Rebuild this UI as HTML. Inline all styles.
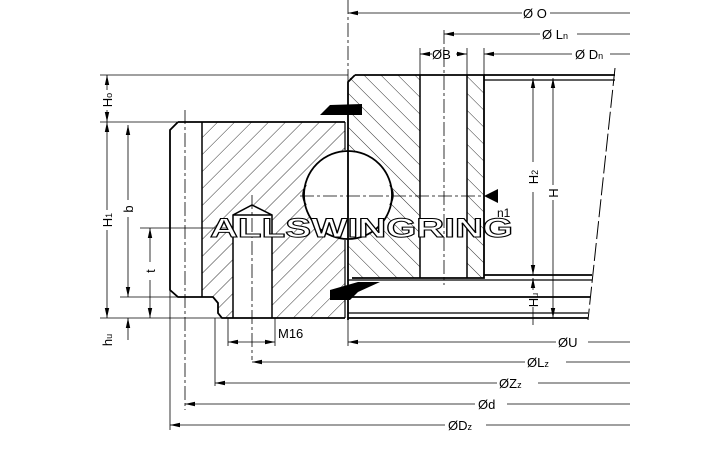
<!DOCTYPE html>
<html><head><meta charset="utf-8"><style>
html,body{margin:0;padding:0;background:#fff;}
svg{display:block;font-family:"Liberation Sans",sans-serif;}
</style></head><body>
<svg width="720" height="456" viewBox="0 0 720 456" xmlns="http://www.w3.org/2000/svg">
<defs>
<pattern id="hl" width="12" height="12" patternUnits="userSpaceOnUse" patternTransform="rotate(45)"><line x1="0" y1="0" x2="0" y2="12" stroke="#000" stroke-width="0.8"/></pattern>
<pattern id="hr" width="12" height="12" patternUnits="userSpaceOnUse" patternTransform="rotate(-45)"><line x1="0" y1="0" x2="0" y2="12" stroke="#000" stroke-width="0.8"/></pattern>
<marker id="a" markerWidth="10" markerHeight="6" refX="10" refY="3" orient="auto-start-reverse" markerUnits="userSpaceOnUse"><path d="M10,3 L0,0.8 L0,5.2 Z" fill="#000"/></marker>
</defs>
<g fill="none" stroke="#000" stroke-width="1">
<path d="M202,122 L345,122 L345,318 L272,318 L272,215 L252,205 L233,215 L233,318 L218,318 L218,297 L202,297 Z" fill="url(#hl)" stroke="none"/>
<circle cx="348" cy="195" r="44" fill="#fff" stroke="none"/>
<path d="M352,75 L420,75 L420,278 L352,278 L348,274 L348,80 Z" fill="url(#hr)" stroke="none"/>
<rect x="467" y="75" width="17" height="203" fill="url(#hr)" stroke="none"/>
<circle cx="348" cy="195" r="44" fill="#fff" stroke-width="1.8"/>
<path d="M306,185 Q300,195 306,205 M390,185 Q396,195 390,205" stroke-width="1.5"/>
<path d="M178,122 L345,122 M178,122 L170,130 L170,290 L178,297 L213,297 L218,303 L218,313 L222,318 L345,318" stroke-width="1.8"/>
<line x1="202" y1="122" x2="202" y2="297" stroke-width="1.5"/>
<path d="M233,318 L233,215 L252,205 L272,215 L272,318 M233,215 L272,215" stroke-width="1.5"/>
<line x1="345" y1="122" x2="345" y2="150" stroke-width="1.2"/>
<line x1="345" y1="240" x2="345" y2="318" stroke-width="1.2"/>
<path d="M355,75 L484,75 L484,278 L352,278 M355,75 L348,82 L348,278" stroke-width="1.8"/>
<line x1="420" y1="75" x2="420" y2="278" stroke-width="1.5"/>
<line x1="467" y1="75" x2="467" y2="278" stroke-width="1.5"/>
<line x1="484" y1="75" x2="615" y2="75" stroke-width="1.8"/>
<line x1="484" y1="80" x2="615" y2="80" stroke-width="1.2"/>
<line x1="484" y1="275" x2="592" y2="275" stroke-width="1.8"/>
<line x1="348" y1="280" x2="592" y2="280" stroke-width="1.2"/>
<line x1="348" y1="297" x2="590" y2="297" stroke-width="1.8"/>
<line x1="348" y1="313" x2="588" y2="313" stroke-width="1.2"/>
<line x1="348" y1="318" x2="588" y2="318" stroke-width="1.8"/>
<line x1="348" y1="278" x2="348" y2="320" stroke-width="1.8"/>
<line x1="615" y1="68" x2="588" y2="320" stroke-dasharray="18,4"/>
<path d="M320,115 L330,105 L362,104 L362,115 Z" fill="#000" stroke="none"/>
<path d="M330,290 L358,282 L380,282 L358,292 L350,300 L330,300 Z" fill="#000" stroke="none"/>
<g stroke-dasharray="14,3,3,3" stroke-width="0.8">
<line x1="348" y1="0" x2="348" y2="320"/>
<line x1="444" y1="30" x2="444" y2="285"/>
<line x1="252" y1="195" x2="252" y2="360"/>
<line x1="185" y1="110" x2="185" y2="410"/>
<line x1="300" y1="196" x2="500" y2="196"/>
</g>
<g stroke-width="0.8">
<line x1="100" y1="75" x2="348" y2="75"/>
<line x1="100" y1="122" x2="178" y2="122"/>
<line x1="120" y1="297" x2="180" y2="297"/>
<line x1="100" y1="318" x2="222" y2="318"/>
<line x1="140" y1="228" x2="233" y2="228"/>
<line x1="420" y1="48" x2="420" y2="75"/>
<line x1="467" y1="48" x2="467" y2="75"/>
<line x1="484" y1="48" x2="484" y2="75"/>
<line x1="228" y1="318" x2="228" y2="346"/>
<line x1="275" y1="318" x2="275" y2="346"/>
<line x1="215" y1="318" x2="215" y2="386"/>
<line x1="170" y1="290" x2="170" y2="430"/>
<line x1="348" y1="318" x2="348" y2="346"/>
<line x1="510" y1="75" x2="560" y2="75"/>
</g>
<g stroke-width="0.8">
<line x1="348" y1="13" x2="522" y2="13" marker-start="url(#a)"/><line x1="550" y1="13" x2="630" y2="13"/>
<line x1="444" y1="34" x2="540" y2="34" marker-start="url(#a)"/><line x1="577" y1="34" x2="630" y2="34"/>
<line x1="484" y1="54" x2="572" y2="54" marker-start="url(#a)"/><line x1="610" y1="54" x2="630" y2="54"/>
<line x1="420" y1="54" x2="432" y2="54" marker-start="url(#a)"/><line x1="456" y1="54" x2="467" y2="54" marker-end="url(#a)"/>
<line x1="533" y1="78" x2="533" y2="162" marker-start="url(#a)"/><line x1="533" y1="192" x2="533" y2="275" marker-end="url(#a)"/>
<line x1="553" y1="78" x2="553" y2="185" marker-start="url(#a)"/><line x1="553" y1="200" x2="553" y2="318" marker-end="url(#a)"/>
<line x1="533" y1="278" x2="533" y2="290" marker-start="url(#a)"/><line x1="533" y1="307" x2="533" y2="325"/>
<line x1="107" y1="75" x2="107" y2="90" marker-start="url(#a)"/><line x1="107" y1="110" x2="107" y2="122" marker-end="url(#a)"/>
<line x1="107" y1="122" x2="107" y2="210" marker-start="url(#a)"/><line x1="107" y1="230" x2="107" y2="318" marker-end="url(#a)"/>
<line x1="128" y1="125" x2="128" y2="200" marker-start="url(#a)"/><line x1="128" y1="217" x2="128" y2="297" marker-end="url(#a)"/>
<line x1="150" y1="228" x2="150" y2="262" marker-start="url(#a)"/><line x1="150" y1="280" x2="150" y2="318" marker-end="url(#a)"/>
<line x1="128" y1="340" x2="128" y2="318" marker-end="url(#a)"/>
<line x1="228" y1="342" x2="275" y2="342" marker-start="url(#a)" marker-end="url(#a)"/>
<line x1="348" y1="342" x2="556" y2="342" marker-start="url(#a)"/><line x1="588" y1="342" x2="630" y2="342"/>
<line x1="252" y1="362" x2="525" y2="362" marker-start="url(#a)"/><line x1="566" y1="362" x2="630" y2="362"/>
<line x1="215" y1="383" x2="497" y2="383" marker-start="url(#a)"/><line x1="538" y1="383" x2="630" y2="383"/>
<line x1="185" y1="404" x2="475" y2="404" marker-start="url(#a)"/><line x1="507" y1="404" x2="630" y2="404"/>
<line x1="170" y1="425" x2="445" y2="425" marker-start="url(#a)"/><line x1="486" y1="425" x2="630" y2="425"/>
</g>
<path d="M484,196 L498,189 L498,203 Z" fill="#000" stroke="none"/>
</g>
<g font-size="13" fill="#000">
<text x="523" y="18">Ø O</text>
<text x="542" y="39">Ø L<tspan font-size="9">n</tspan></text>
<text x="575" y="59">Ø D<tspan font-size="9">n</tspan></text>
<text x="432" y="59">ØB</text>
<text x="278" y="338">M16</text>
<text x="558" y="347">ØU</text>
<text x="527" y="367">ØL<tspan font-size="9">z</tspan></text>
<text x="499" y="388">ØZ<tspan font-size="9">z</tspan></text>
<text x="478" y="409">Ød</text>
<text x="448" y="430">ØD<tspan font-size="9">z</tspan></text>
<text x="497" y="217" font-size="12">n1</text>
<text transform="translate(112,100) rotate(-90)" text-anchor="middle">H<tspan font-size="9">o</tspan></text>
<text transform="translate(112,220) rotate(-90)" text-anchor="middle">H<tspan font-size="9">1</tspan></text>
<text transform="translate(133,209) rotate(-90)" text-anchor="middle">b</text>
<text transform="translate(155,271) rotate(-90)" text-anchor="middle">t</text>
<text transform="translate(112,340) rotate(-90)" text-anchor="middle">h<tspan font-size="9">u</tspan></text>
<text transform="translate(538,177) rotate(-90)" text-anchor="middle">H<tspan font-size="9">2</tspan></text>
<text transform="translate(558,193) rotate(-90)" text-anchor="middle">H</text>
<text transform="translate(538,300) rotate(-90)" text-anchor="middle">H<tspan font-size="9">u</tspan></text>
</g>
<text x="210" y="237" font-size="27" font-weight="bold" textLength="303" lengthAdjust="spacingAndGlyphs" fill="#fff" stroke="#000" stroke-width="1">ALLSWINGRING</text>
</svg>
</body></html>
